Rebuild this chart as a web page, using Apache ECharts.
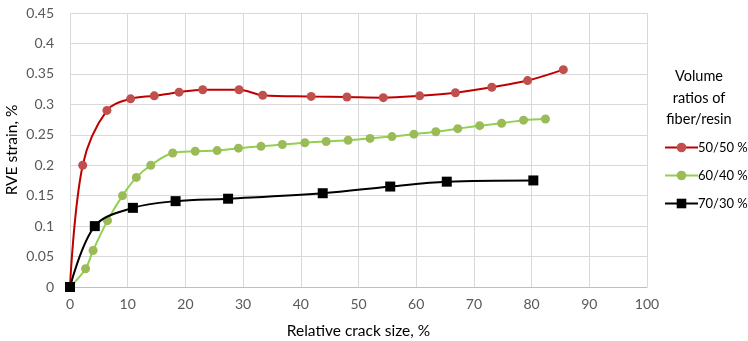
<!DOCTYPE html>
<html>
<head>
<meta charset="utf-8">
<script src="https://cdn.jsdelivr.net/npm/echarts@6/dist/echarts.min.js"></script>
<style>html,body{margin:0;padding:0;background:#fff;}#c{width:748px;height:341px;}</style>
</head>
<body>
<div id="c"></div>
<script>
const xTicks = [0,10,20,30,40,50,60,70,80,90,100];
const yTicks = [0,0.05,0.1,0.15,0.2,0.25,0.3,0.35,0.4,0.45];
const seriesNames = ['50/50 %','60/40 %','70/30 %'];
const legendTitle = 'Volume\nratios of\nfiber/resin';
const xName = 'Relative crack size, %';
const yName = 'RVE strain, %';

const x5050 = [0,2.2,6.4,10.5,14.6,18.9,23.0,29.3,33.4,41.8,48.0,54.3,60.6,66.8,73.1,79.3,85.5];
const y5050 = [0,0.200,0.290,0.309,0.314,0.320,0.324,0.324,0.315,0.313,0.312,0.311,0.314,0.319,0.328,0.339,0.357];

const x6040 = [0,2.7,4.0,6.5,9.1,11.5,14.0,17.8,21.7,25.5,29.2,33.1,36.8,40.7,44.4,48.2,52.0,55.8,59.6,63.4,67.2,71.0,74.8,78.6,82.4];
const y6040 = [0,0.030,0.060,0.109,0.150,0.180,0.200,0.220,0.223,0.224,0.228,0.231,0.234,0.237,0.239,0.241,0.244,0.247,0.251,0.255,0.260,0.265,0.269,0.274,0.276];

const x7030 = [0,4.3,10.9,18.3,27.4,43.8,55.5,65.3,80.3];
const y7030 = [0,0.100,0.130,0.141,0.145,0.154,0.165,0.173,0.175];

const zip = (xs, ys) => xs.map((x, i) => [x, ys[i]]);
const FONT = 'Lato, "Open Sans", sans-serif';

const chart = echarts.init(document.getElementById('c'), null, {renderer: 'canvas'});
chart.setOption({
  animation: false,
  textStyle: {fontFamily: FONT},
  grid: {left: 70, right: 101, top: 13, bottom: 54, containLabel: false, outerBoundsMode: 'none'},
  xAxis: {
    type: 'value', min: 0, max: 100, interval: 10,
    name: xName, nameLocation: 'middle', nameGap: 36, nameMoveOverlap: false,
    nameTextStyle: {color: '#000', fontSize: 15.5, fontFamily: FONT},
    axisLine: {show: true, lineStyle: {color: '#BFBFBF'}},
    axisTick: {show: false},
    axisLabel: {color: '#595959', fontSize: 14, margin: 10, fontFamily: FONT},
    splitLine: {show: true, lineStyle: {color: '#D9D9D9'}}
  },
  yAxis: {
    type: 'value', min: 0, max: 0.45, interval: 0.05,
    name: yName, nameLocation: 'middle', nameGap: 50, nameMoveOverlap: false,
    nameTextStyle: {color: '#000', fontSize: 15.5, fontFamily: FONT},
    axisLine: {show: false},
    axisTick: {show: false},
    axisLabel: {color: '#595959', fontSize: 14, margin: 16, fontFamily: FONT,
      formatter: v => String(+v.toFixed(2))},
    splitLine: {show: true, lineStyle: {color: '#D9D9D9'}}
  },
  graphic: [{
    type: 'text', x: 699, y: 66,
    style: {text: legendTitle, fill: '#000', font: '14.5px ' + FONT, align: 'center', verticalAlign: 'top', lineHeight: 21.5}
  }],
  legend: {
    orient: 'vertical', left: 659, top: 136, itemGap: 15,
    itemWidth: 33, itemHeight: 12,
    textStyle: {color: '#000', fontSize: 13, fontFamily: FONT, padding: [0,0,0,-5]},
    data: seriesNames
  },
  series: [
    {name: seriesNames[0], type: 'line', data: zip(x5050, y5050), smooth: 0.35,
     symbol: 'circle', symbolSize: 9, z: 3,
     lineStyle: {color: '#C00000', width: 2}, itemStyle: {color: '#C0504D'}},
    {name: seriesNames[1], type: 'line', data: zip(x6040, y6040), smooth: 0.35,
     symbol: 'circle', symbolSize: 9, z: 2,
     lineStyle: {color: '#92D050', width: 2}, itemStyle: {color: '#9BBB59'}},
    {name: seriesNames[2], type: 'line', data: zip(x7030, y7030), smooth: 0.35,
     symbol: 'rect', symbolSize: 10, z: 4,
     lineStyle: {color: '#000000', width: 2}, itemStyle: {color: '#000000'}}
  ]
});
</script>
</body>
</html>
